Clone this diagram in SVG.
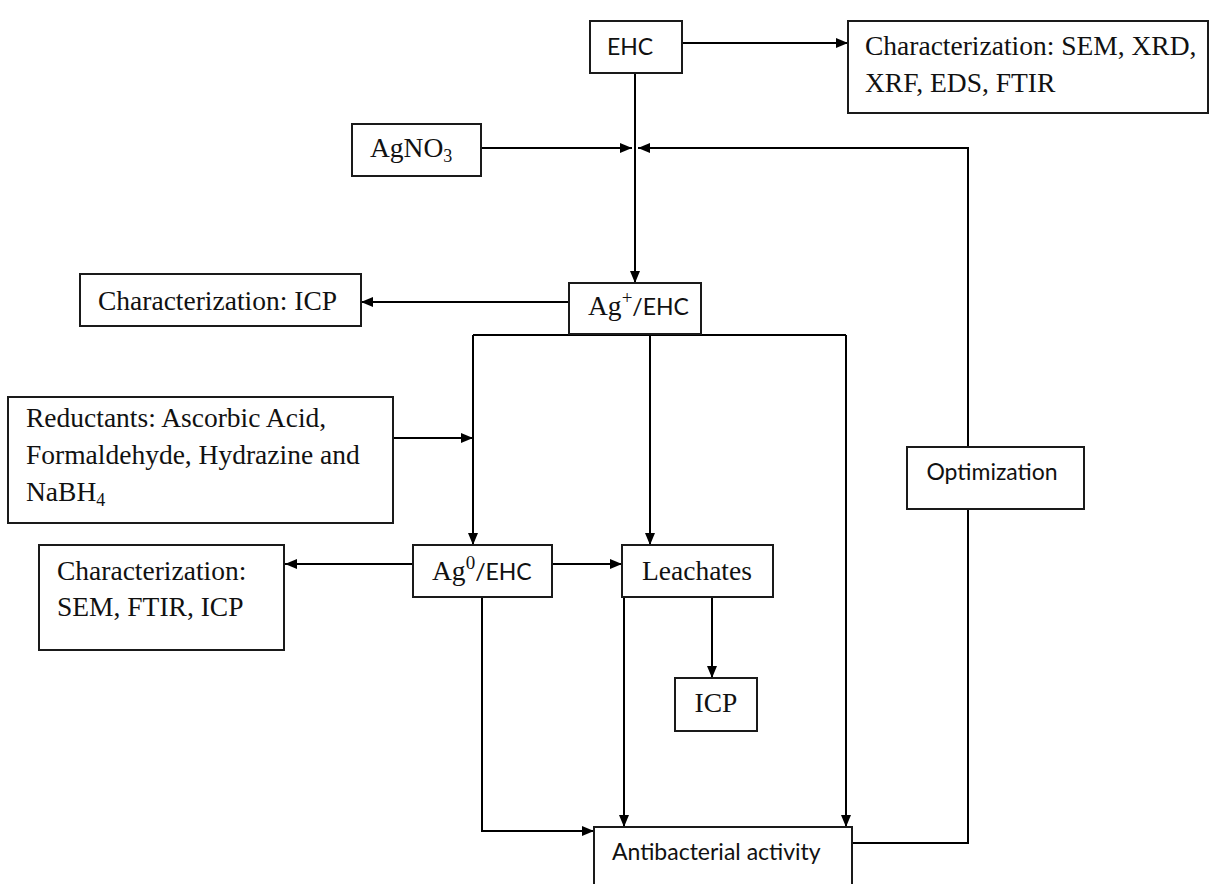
<svg xmlns="http://www.w3.org/2000/svg" width="1210" height="884" viewBox="0 0 1210 884">
<defs>
<marker id="ah" markerWidth="12" markerHeight="10" refX="12" refY="5" orient="auto" markerUnits="userSpaceOnUse">
<path d="M0,0 L12,5 L0,10 Z" fill="#000"/>
</marker>
<style>
.box{fill:#fff;stroke:#1a1a1a;stroke-width:2}
.ln{fill:none;stroke:#000;stroke-width:2}
.ar{fill:none;stroke:#000;stroke-width:2;marker-end:url(#ah)}
.sr{font-family:"Liberation Serif","Times New Roman",serif;font-size:27.5px;fill:#111}
.ss{font-family:Lato,"Open Sans",sans-serif;font-size:23px;fill:#111}
.sup{font-family:"Liberation Serif","Times New Roman",serif;font-size:19px;fill:#111}
.sub{font-size:18px}
</style>
</defs>
<rect width="1210" height="884" fill="#fff"/>

<g id="connectors">
<path class="ar" d="M682,43 H848"/>
<path class="ar" d="M635,73 V283"/>
<path class="ar" d="M481,148 H632"/>
<path class="ar" d="M968,447 V148 H638"/>
<path class="ar" d="M569,302 H361"/>
<path class="ln" d="M473,335 H846"/>
<path class="ar" d="M473,335 V545"/>
<path class="ar" d="M650,335 V545"/>
<path class="ar" d="M846,335 V827"/>
<path class="ar" d="M393,438 H473"/>
<path class="ar" d="M413,564 H285"/>
<path class="ar" d="M552,564 H622"/>
<path class="ar" d="M712,597 V678"/>
<path class="ar" d="M624,597 V827"/>
<path class="ar" d="M482,597 V831 H594"/>
<path class="ln" d="M852,843 H968 V509"/>
</g>

<g id="ehc">
<rect class="box" x="590" y="21" width="92" height="52"/>
<text class="ss" x="630" y="55" text-anchor="middle">EHC</text>
</g>

<g id="char-top">
<rect class="box" x="848" y="21" width="360" height="92"/>
<text class="sr" x="865" y="55">Characterization: SEM, XRD,</text>
<text class="sr" x="865" y="92">XRF, EDS, FTIR</text>
</g>

<g id="agno3">
<rect class="box" x="352" y="124" width="129" height="52"/>
<text class="sr" x="370" y="157">AgNO<tspan class="sub" dy="5">3</tspan></text>
</g>

<g id="ag-plus">
<rect class="box" x="569" y="283" width="132" height="51"/>
<text x="588" y="315"><tspan class="sr">Ag</tspan><tspan class="sup" dy="-11">+</tspan><tspan class="ss" dy="11">/EHC</tspan></text>
</g>

<g id="char-icp">
<rect class="box" x="80" y="274" width="281" height="52"/>
<text class="sr" x="98" y="310">Characterization: ICP</text>
</g>

<g id="reductants">
<rect class="box" x="8" y="397" width="385" height="126"/>
<text class="sr" x="26" y="427">Reductants: Ascorbic Acid,</text>
<text class="sr" x="26" y="464">Formaldehyde, Hydrazine and</text>
<text class="sr" x="26" y="501">NaBH<tspan class="sub" dy="5">4</tspan></text>
</g>

<g id="optimization">
<rect class="box" x="907" y="447" width="177" height="62"/>
<text class="ss" x="992" y="480" text-anchor="middle">Optimization</text>
</g>

<g id="ag-zero">
<rect class="box" x="413" y="545" width="139" height="52"/>
<text x="432" y="580"><tspan class="sr">Ag</tspan><tspan class="sup" dy="-11">0</tspan><tspan class="ss" dy="11">/EHC</tspan></text>
</g>

<g id="char-sem">
<rect class="box" x="39" y="545" width="245" height="105"/>
<text class="sr" x="57" y="580">Characterization:</text>
<text class="sr" x="57" y="616">SEM, FTIR, ICP</text>
</g>

<g id="leachates">
<rect class="box" x="622" y="545" width="151" height="52"/>
<text class="sr" x="642" y="580">Leachates</text>
</g>

<g id="icp">
<rect class="box" x="675" y="678" width="82" height="53"/>
<text class="sr" x="716" y="712" text-anchor="middle">ICP</text>
</g>

<g id="antibacterial">
<rect class="box" x="594" y="827" width="258" height="80"/>
<text class="ss" x="612" y="860">Antibacterial activity</text>
</g>
</svg>
